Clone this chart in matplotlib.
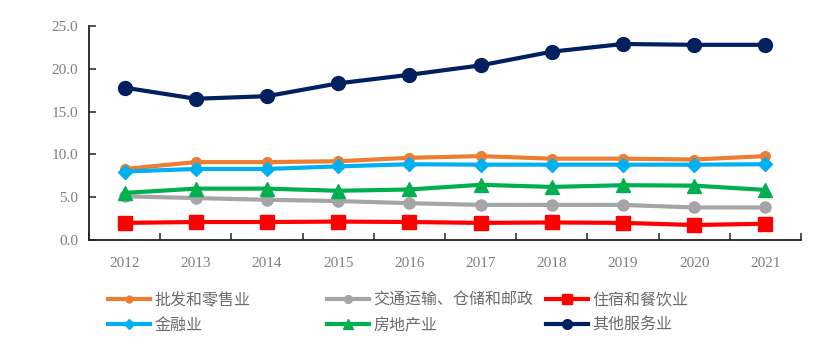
import matplotlib
matplotlib.use("Agg")
import matplotlib.pyplot as plt
from matplotlib.lines import Line2D
import numpy as np

years = ["2012", "2013", "2014", "2015", "2016", "2017", "2018", "2019", "2020", "2021"]
wholesale = [8.3, 9.1, 9.1, 9.2, 9.6, 9.8, 9.5, 9.5, 9.4, 9.8]
transport = [5.1, 4.9, 4.7, 4.55, 4.3, 4.1, 4.1, 4.1, 3.8, 3.8]
hotel = [2.0, 2.1, 2.1, 2.15, 2.1, 2.0, 2.05, 2.0, 1.75, 1.9]
finance = [8.0, 8.3, 8.3, 8.6, 8.85, 8.8, 8.8, 8.8, 8.8, 8.85]
realestate = [5.5, 6.0, 6.0, 5.75, 5.9, 6.45, 6.2, 6.4, 6.35, 5.85]
others = [17.8, 16.5, 16.8, 18.3, 19.3, 20.4, 22.0, 22.9, 22.8, 22.8]
names = ["批发和零售业", "交通运输、仓储和邮政", "住宿和餐饮业", "金融业", "房地产业", "其他服务业"]

plt.rcParams['font.family'] = ['Noto Sans CJK SC', 'DejaVu Sans']

fig = plt.figure(figsize=(8.16, 3.59), dpi=100)
ax = fig.add_axes([89/816, 1-240/359, 712/816, 214/359])

x = np.arange(len(years))
series = [
    (wholesale, '#ED7D31', 'o', 7),
    (transport, '#A5A5A5', 'o', 8),
    (hotel, '#FF0000', 's', 10),
    (finance, '#00B0F0', 'D', 7),
    (realestate, '#00B050', '^', 10),
    (others, '#002060', 'o', 10),
]
handles = []
for (vals, c, m, ms), nm in zip(series, names):
    ax.plot(x, vals, color=c, marker=m, markersize=ms, lw=3,
            markeredgecolor=c, label=nm)
    handles.append(Line2D([], [], color=c, marker=m, markersize=ms*0.7, lw=3, markeredgecolor=c))

ax.set_xlim(-0.5, 9.5)
ax.set_ylim(0, 25)
ax.set_xticks(np.arange(-0.5, 10, 1))
ax.set_xticklabels([])
ax.set_xticks(x, minor=True)
ax.set_xticklabels(years, minor=True)
ax.tick_params(axis='x', which='major', direction='in', length=5, width=1.2, color='#333333')
ax.tick_params(axis='x', which='minor', length=0, pad=12)
ax.set_yticks(np.arange(0, 26, 5))
ax.set_yticklabels([f"{v:.1f}" for v in np.arange(0, 26, 5)])
ax.tick_params(axis='y', direction='in', length=5, width=1.2, pad=8, color='#333333')
for lab in ax.get_xticklabels(minor=True) + ax.get_yticklabels():
    lab.set_family('Liberation Serif')
    lab.set_fontsize(11)
    lab.set_color('#7f7f7f')
for s in ['top', 'right']:
    ax.spines[s].set_visible(False)
for s in ['left', 'bottom']:
    ax.spines[s].set_linewidth(1.3)
    ax.spines[s].set_color('#222222')

col_x = [108, 327, 546]
for ci in range(3):
    hs = [handles[ci], handles[ci + 3]]
    ls = [names[ci], names[ci + 3]]
    fig.legend(hs, ls, loc='upper left', bbox_to_anchor=(col_x[ci]/816, 1-292/359),
               frameon=False, fontsize=11.5, handlelength=2.6, handletextpad=0.3,
               borderpad=0, borderaxespad=0, labelspacing=0.5, labelcolor='#6b6b6b')

fig.savefig("out.png", dpi=100)
